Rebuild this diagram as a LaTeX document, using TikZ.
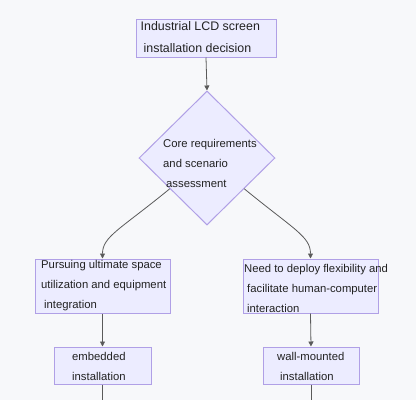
\documentclass[tikz,border=0pt]{standalone}
\usepackage{fontspec}
\setmainfont{Liberation Sans}
\usetikzlibrary{shapes.geometric,arrows.meta,calc}
\definecolor{bgc}{HTML}{F7F8FA}
\definecolor{boxfill}{HTML}{ECECFF}
\definecolor{boxline}{HTML}{B0A0E6}
\definecolor{linec}{HTML}{5A5A5A}
\definecolor{txtc}{HTML}{222222}
\tikzset{
  boxnode/.style={draw=boxline, fill=boxfill, line width=1pt, inner sep=0pt},
  decision/.style={diamond, draw=boxline, fill=boxfill, line width=1pt, inner sep=0pt, minimum width=136pt, minimum height=134pt},
  lbl/.style={anchor=west, inner sep=0pt, align=left, text=txtc, font=\fontsize{11.3pt}{20pt}\selectfont},
  conn/.style={draw=linec, line width=0.8pt, -{Triangle[length=5pt,width=5pt]}},
  plainconn/.style={draw=linec, line width=0.8pt}
}
\begin{document}
\begin{tikzpicture}[x=1pt,y=-1pt]
\fill[bgc] (0,0) rectangle (416,400);
\useasboundingbox (0,0) rectangle (416,400);
% boxes
\node[boxnode, minimum width=140pt, minimum height=38pt] (b1) at (206,38) {};
\node[decision] (d) at (207,158) {};
\node[boxnode, minimum width=135pt, minimum height=54pt] (b2) at (102.5,286) {};
\node[boxnode, minimum width=135pt, minimum height=54pt] (b3) at (310.5,286) {};
\node[boxnode, minimum width=97pt, minimum height=37pt] (b4) at (102.5,365.5) {};
\node[boxnode, minimum width=96pt, minimum height=37pt] (b5) at (311,365.5) {};
% texts
\node[lbl, font=\fontsize{12.4pt}{22pt}\selectfont] (t1) at (140.5,37) {Industrial LCD screen\\\hspace*{3pt}installation decision};
\node[lbl] (t2) at (163,163) {Core requirements\\and scenario\\\hspace*{3pt}assessment};
\node[lbl] (t3) at (41,285.5) {Pursuing ultimate space\\utilization and equipment\\\hspace*{3pt}integration};
\node[lbl] (t4) at (244,288) {Need to deploy flexibility and\\\hspace*{3pt}facilitate human-computer\\\hspace*{3pt}interaction};
\node[lbl] (t5) at (72,366) {embedded\\installation};
\node[lbl] (t6) at (277,366) {wall-mounted\\\hspace*{3pt}installation};
% connectors
\coordinate (dl) at ($(d.west)!0.456!(d.south)$);
\coordinate (dr) at ($(d.east)!0.456!(d.south)$);
\coordinate (e4) at (102.5,400);
\coordinate (e5) at (311,400);
\draw[conn] (b1.south) -- (d.north);
\draw[conn] (dl) .. controls +(-50,41) and +(0,-22) .. (b2.north);
\draw[conn] (dr) .. controls +(50,41) and +(0,-22) .. (b3.north);
\draw[conn] (b2.south) -- (b4.north);
\draw[conn] (b3.south) -- (b5.north);
\draw[plainconn] (b4.south) -- (e4);
\draw[plainconn] (b5.south) -- (e5);
\end{tikzpicture}
\end{document}
